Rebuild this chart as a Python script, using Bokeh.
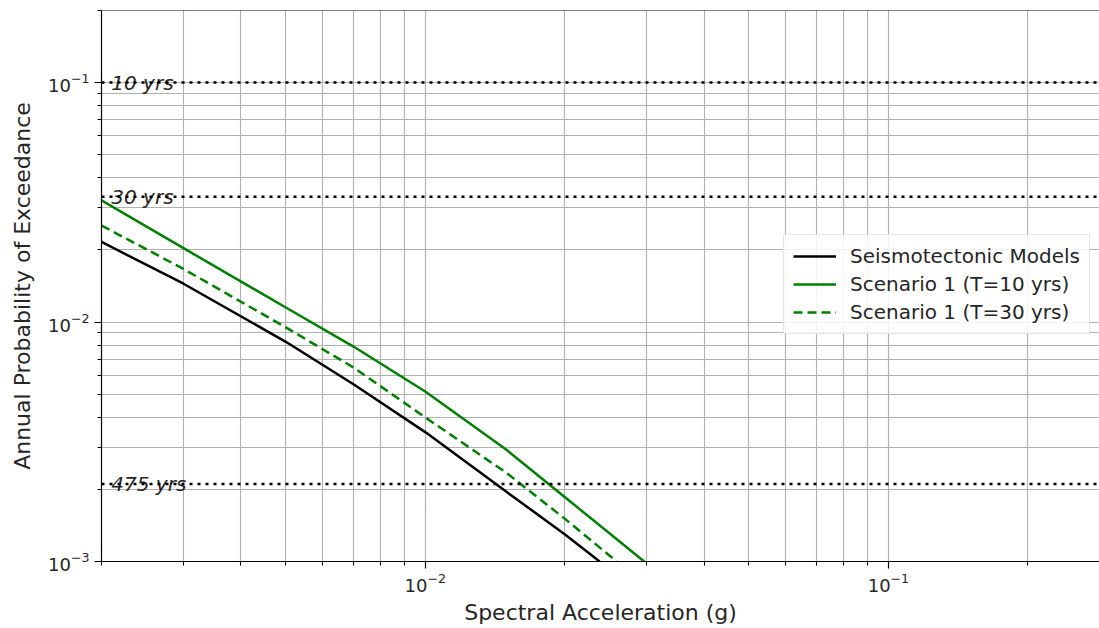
from bokeh.plotting import figure
from bokeh.models import Span, Legend, LegendItem, ColumnDataSource, Range1d
from bokeh.core.properties import value
from bokeh.embed import file_html
from bokeh.resources import INLINE

# ---- data ----
sa_seismo = [0.002, 0.003, 0.005, 0.007, 0.01, 0.015, 0.02, 0.0238]
poe_seismo = [0.0216, 0.01449, 0.00827, 0.0055, 0.00347, 0.00195, 0.0013, 0.001]

sa_t10 = [0.002, 0.003, 0.005, 0.007, 0.01, 0.015, 0.02, 0.0297]
poe_t10 = [0.0322, 0.0204, 0.0115, 0.0079, 0.00513, 0.00292, 0.00186, 0.001]

sa_t30 = [0.002, 0.003, 0.005, 0.007, 0.01, 0.015, 0.02, 0.0259]
poe_t30 = [0.0253, 0.0167, 0.0095, 0.00646, 0.0040, 0.00234, 0.00151, 0.001]

return_periods = [10, 30, 475]
rp_labels = ["10 yrs", "30 yrs", "475 yrs"]

series_names = ["Seismotectonic Models", "Scenario 1 (T=10 yrs)", "Scenario 1 (T=30 yrs)"]

x_lo, x_hi = 0.002, 0.2856
y_lo, y_hi = 0.001, 0.2

FONT = "DejaVu Sans"
TXT = "#262626"

p = figure(width=1099, height=628, x_axis_type="log", y_axis_type="log",
           x_range=Range1d(x_lo, x_hi), y_range=Range1d(y_lo, y_hi),
           output_backend="svg", toolbar_location=None,
           min_border_left=101, min_border_right=0, min_border_top=10, min_border_bottom=67)
p.outline_line_color = None
p.background_fill_color = "white"

# grids
for g in (p.xgrid, p.ygrid):
    g.grid_line_color = "#b0b0b0"
    g.grid_line_width = 1.1
    g.minor_grid_line_color = "#b0b0b0"
    g.minor_grid_line_width = 1.1

# axes styling
for ax in (p.xaxis[0], p.yaxis[0]):
    ax.axis_line_color = "black"
    ax.axis_line_width = 1.2
    ax.major_tick_line_color = "black"
    ax.minor_tick_line_color = "black"
    ax.major_tick_line_width = 1.2
    ax.minor_tick_line_width = 1
    ax.major_tick_out = 7
    ax.major_tick_in = 0
    ax.minor_tick_out = 4
    ax.minor_tick_in = 0
    ax.major_label_text_font = FONT
    ax.major_label_text_font_size = "18px"
    ax.major_label_text_color = TXT
    ax.axis_label_text_font = FONT
    ax.axis_label_text_font_size = "22px"
    ax.axis_label_text_font_style = "normal"
    ax.axis_label_text_color = TXT

p.xaxis.axis_label = "Spectral Acceleration (g)"
p.yaxis.axis_label = "Annual Probability of Exceedance"
p.xaxis.axis_label_standoff = 5
p.xaxis.major_label_standoff = 4
p.yaxis.axis_label_standoff = 10

# top spine
p.add_layout(Span(location=y_hi, dimension="width", line_color="black", line_width=1.2))

# return period lines
for rp in return_periods:
    p.add_layout(Span(location=1.0 / rp, dimension="width", line_color="black",
                      line_width=2.5, line_dash="3 5"))
src_txt = ColumnDataSource(dict(x=[0.0021] * len(return_periods),
                                y=[1.0 / r for r in return_periods], t=rp_labels))
p.text(x="x", y="y", text="t", source=src_txt, text_font=value(FONT),
       text_font_size="20px", text_font_style="italic", text_color=TXT,
       text_baseline="alphabetic", text_align="left")

# curves
r1 = p.line(sa_seismo, poe_seismo, line_color="black", line_width=2.5)
r2 = p.line(sa_t10, poe_t10, line_color="#008000", line_width=2.5)
r3 = p.line(sa_t30, poe_t30, line_color="#008000", line_width=2.5, line_dash="9 5")

legend = Legend(items=[LegendItem(label=series_names[0], renderers=[r1]),
                       LegendItem(label=series_names[1], renderers=[r2]),
                       LegendItem(label=series_names[2], renderers=[r3])],
                location=(682, 227))
legend.label_text_font = FONT
legend.label_text_font_size = "20px"
legend.label_text_color = TXT
legend.glyph_width = 43
legend.glyph_height = 20
legend.label_height = 20
legend.spacing = 4
legend.padding = 9
legend.margin = 0
legend.label_standoff = 14
legend.border_line_color = "#cccccc"
legend.border_line_width = 1
legend.background_fill_alpha = 0.85
p.add_layout(legend, "center")

open("out.html", "w").write(file_html(p, INLINE))
